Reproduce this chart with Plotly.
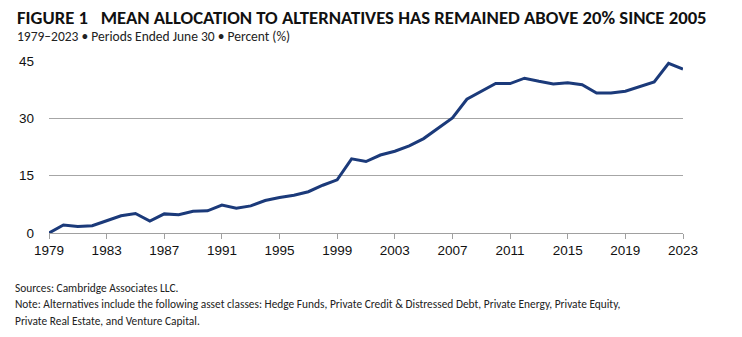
import plotly.graph_objects as go

years = list(range(1979, 2024))
allocation = [0.0, 2.1, 1.7, 1.9, 3.2, 4.5, 5.1, 3.1, 5.0, 4.8,
              5.7, 5.8, 7.3, 6.5, 7.1, 8.5, 9.3, 9.9, 10.8, 12.5,
              13.9, 19.4, 18.7, 20.4, 21.4, 22.8, 24.7, 27.3, 30.1, 35.0,
              37.0, 39.1, 39.1, 40.5, 39.7, 39.0, 39.3, 38.8, 36.6, 36.6,
              37.1, 38.2, 39.5, 44.4, 42.9]
x_ticks = list(range(1979, 2024, 4))
y_ticks = [0, 15, 30, 45]

title = "FIGURE 1   MEAN ALLOCATION TO ALTERNATIVES HAS REMAINED ABOVE 20% SINCE 2005"
subtitle = "1979–2023 • Periods Ended June 30 • Percent (%)"
notes = [
    "Sources: Cambridge Associates LLC.",
    "Note: Alternatives include the following asset classes: Hedge Funds, Private Credit & Distressed Debt, Private Energy, Private Equity,",
    "Private Real Estate, and Venture Capital.",
]

FONT = "Carlito, Lato, sans-serif"
TICKFONT = "Liberation Sans, Arial, sans-serif"
W, H = 742, 337
L, R, T, B = 49, 59, 61, 104
pw, ph = W - L - R, H - T - B

def px(x):
    return (x - L) / pw

def py(y):
    return (H - B - y) / ph

fig = go.Figure()
fig.add_trace(go.Scatter(x=years, y=allocation, mode="lines",
                         line=dict(color="#1b3a7a", width=3), hoverinfo="skip"))

fig.update_layout(
    width=W, height=H,
    margin=dict(l=L, r=R, t=T, b=B),
    paper_bgcolor="white", plot_bgcolor="white",
    showlegend=False,
    font=dict(family=FONT, color="#222222"),
    xaxis=dict(range=[1979, 2023], tickvals=x_ticks, ticktext=[str(v) for v in x_ticks],
               showgrid=False, zeroline=False, showline=True, linecolor="#a0a0a0",
               linewidth=1, ticks="outside", ticklen=5, tickcolor="#a0a0a0",
               tickfont=dict(size=13.5, color="#111111", family=TICKFONT)),
    yaxis=dict(range=[0, 45], tickvals=y_ticks, showgrid=True, gridcolor="#a6a6a6",
               gridwidth=1, zeroline=False, showline=False, ticks="",
               ticklabelstandoff=14,
               tickfont=dict(size=13.5, color="#111111", family=TICKFONT)),
)

ann = [
    dict(text="<b>" + title + "</b>", x=px(15), y=py(4), size=18.7, color="#111111"),
    dict(text=subtitle, x=px(15), y=py(25.5), size=13.5, color="#222222"),
]
for i, n in enumerate(notes):
    ann.append(dict(text=n, x=px(13), y=py(279 + i * 16.3), size=11.4, color="#222222"))

for a in ann:
    fig.add_annotation(text=a["text"], x=a["x"], y=a["y"], xref="paper", yref="paper",
                       xanchor="left", yanchor="top", showarrow=False,
                       font=dict(size=a["size"], color=a["color"], family=FONT))

fig.write_html("out.html")
